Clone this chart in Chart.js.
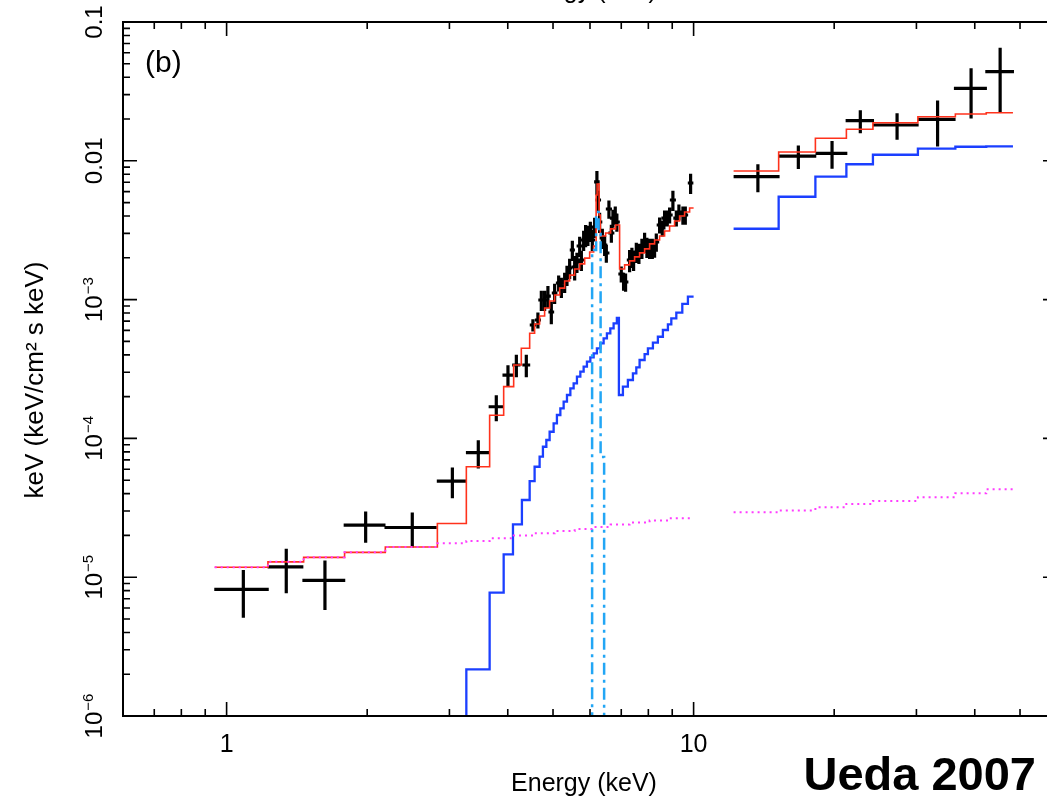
<!DOCTYPE html>
<html>
<head>
<meta charset="utf-8">
<title>Spectrum (b)</title>
<script src="https://cdn.jsdelivr.net/npm/chart.js@4.4.0/dist/chart.umd.min.js"></script>
<style>
  body { margin: 0; background: #fff; }
  #wrap { width: 1047px; height: 797px; overflow: hidden; position: relative; background: #fff; }
</style>
</head>
<body>
<div id="wrap"><canvas id="spec" width="1060" height="797"></canvas></div>
<script>
// ---- XIS spectrum (keV, keV^2 ph/cm^2/s/keV), errors are half-widths ----
const xisEnergy = [1.086, 1.342, 1.624, 1.985, 2.498, 3.044, 3.459, 3.780, 4.004, 4.173, 4.383,
  4.528, 4.641, 4.720, 4.797, 4.876, 4.958, 5.040, 5.141, 5.210, 5.295,
  5.356, 5.427, 5.500, 5.563, 5.626, 5.702, 5.750, 5.815, 5.872, 5.939,
  6.010, 6.069, 6.139, 6.208, 6.251, 6.291, 6.376, 6.449, 6.503, 6.587,
  6.666, 6.718, 6.796, 6.850, 7.000, 7.080, 7.150, 7.294, 7.377, 7.439,
  7.539, 7.636, 7.750, 7.854, 7.943, 8.050, 8.158, 8.250, 8.320, 8.456,
  8.570, 8.667, 8.783, 8.884, 9.030, 9.183, 9.301, 9.487, 9.599, 9.853];
const xisEnergyErr = [0.145, 0.118, 0.171, 0.204, 0.320, 0.225, 0.205, 0.140, 0.107, 0.085, 0.085,
  0.07, 0.07, 0.07, 0.07, 0.07, 0.07, 0.07, 0.07, 0.07, 0.07,
  0.07, 0.07, 0.07, 0.085, 0.085, 0.085, 0.085, 0.085, 0.085, 0.085,
  0.085, 0.085, 0.085, 0.085, 0.085, 0.085, 0.085, 0.085, 0.1, 0.1,
  0.1, 0.1, 0.1, 0.1, 0.1, 0.1, 0.1, 0.1, 0.1, 0.1,
  0.12, 0.12, 0.12, 0.12, 0.12, 0.12, 0.12, 0.12, 0.12, 0.12,
  0.135, 0.135, 0.135, 0.135, 0.135, 0.135, 0.135, 0.135, 0.135, 0.135];
const xisFlux = [8.18e-6, 1.185e-5, 9.50e-6, 2.37e-5, 2.28e-5, 4.93e-5, 7.89e-5, 1.69e-4, 2.86e-4, 3.38e-4, 3.38e-4,
  6.56e-4, 7.13e-4, 9.93e-4, 9.93e-4, 1.061e-3, 8.14e-4, 1.116e-3, 1.317e-3, 1.232e-3, 1.339e-3,
  1.503e-3, 1.689e-3, 2.277e-3, 1.717e-3, 1.866e-3, 2.433e-3, 1.929e-3, 2.687e-3, 2.920e-3, 2.920e-3,
  3.119e-3, 2.687e-3, 3.333e-3, 7.04e-3, 5.22e-3, 3.622e-3, 2.778e-3, 2.473e-3, 2.166e-3, 4.496e-3,
  3.018e-3, 3.870e-3, 4.070e-3, 3.622e-3, 1.529e-3, 1.361e-3, 1.339e-3, 1.929e-3, 2.027e-3, 1.929e-3,
  2.202e-3, 2.166e-3, 2.352e-3, 2.600e-3, 2.393e-3, 2.352e-3, 2.352e-3, 2.352e-3, 2.600e-3, 3.447e-3,
  3.280e-3, 3.870e-3, 3.870e-3, 4.070e-3, 5.22e-3, 3.870e-3, 4.277e-3, 4.070e-3, 4.070e-3, 6.92e-3];
const xisFluxErr = [3.07e-6, 4.2e-6, 3.7e-6, 6.0e-6, 6.4e-6, 1.23e-5, 1.82e-5, 3.6e-5, 5.1e-5, 6.2e-5, 6.2e-5,
  6.6e-5, 9.5e-5, 1.65e-4, 1.65e-4, 1.94e-4, 1.49e-4, 1.85e-4, 1.75e-4, 2.04e-4, 2.22e-4,
  2.49e-4, 2.8e-4, 3.78e-4, 3.42e-4, 3.10e-4, 4.04e-4, 3.20e-4, 4.46e-4, 5.33e-4, 4.85e-4,
  5.18e-4, 4.46e-4, 5.53e-4, 1.40e-3, 8.67e-4, 6.01e-4, 4.61e-4, 4.10e-4, 3.23e-4, 6.70e-4,
  4.50e-4, 5.77e-4, 6.06e-4, 5.40e-4, 2.03e-4, 2.03e-4, 2.0e-4, 3.52e-4, 3.36e-4, 3.20e-4,
  3.65e-4, 3.59e-4, 3.90e-4, 4.31e-4, 3.97e-4, 3.90e-4, 3.90e-4, 3.51e-4, 3.88e-4, 4.57e-4,
  4.35e-4, 5.14e-4, 5.14e-4, 5.40e-4, 8.67e-4, 5.14e-4, 5.68e-4, 6.06e-4, 6.06e-4, 1.15e-3];

// ---- HXD/PIN spectrum ----
const pinEnergy = [13.73, 16.76, 19.79, 22.75, 27.27, 33.30, 39.28, 45.33];
const pinEnergyErr = [1.55, 1.55, 1.55, 1.59, 3.06, 3.09, 3.19, 3.20];
const pinFlux = [7.68e-3, 1.082e-2, 1.132e-2, 1.945e-2, 1.811e-2, 1.991e-2, 3.33e-2, 4.385e-2];
const pinFluxErr = [1.75e-3, 2.08e-3, 2.57e-3, 3.65e-3, 3.93e-3, 7.24e-3, 1.31e-2, 2.15e-2];

// ---- model components, histograms: bin edges + one value per bin ----
const xisTotalEdges = [0.943, 1.226, 1.462, 1.789, 2.187, 2.827, 3.261, 3.658, 3.920, 4.118,
  4.276, 4.456, 4.566, 4.680, 4.797, 4.917, 5.040, 5.166, 5.295, 5.427,
  5.563, 5.702, 5.844, 5.990, 6.109, 6.184, 6.214, 6.276, 6.313, 6.480,
  6.642, 6.806, 6.943, 7.116, 7.294, 7.476, 7.662, 7.854, 8.050, 8.250,
  8.456, 8.667, 8.884, 9.105, 9.333, 9.565, 9.805, 10.0];
const xisTotal = [1.18e-5, 1.29e-5, 1.39e-5, 1.51e-5, 1.65e-5, 2.44e-5, 6.25e-5, 1.47e-4, 2.36e-4, 3.38e-4,
  4.46e-4, 5.72e-4, 6.67e-4, 7.62e-4, 8.70e-4, 9.77e-4, 1.08e-3, 1.21e-3, 1.36e-3, 1.50e-3,
  1.66e-3, 1.81e-3, 1.99e-3, 2.20e-3, 2.43e-3, 5.67e-3, 6.81e-3, 4.07e-3, 2.87e-3, 3.02e-3,
  3.23e-3, 3.45e-3, 1.66e-3, 1.78e-3, 1.90e-3, 2.03e-3, 2.17e-3, 2.32e-3, 2.52e-3, 2.69e-3,
  2.87e-3, 3.12e-3, 3.39e-3, 3.68e-3, 4.00e-3, 4.28e-3, 4.57e-3];

const xisAbsEdges = [2.827, 3.261, 3.658, 3.920, 4.104, 4.289, 4.456, 4.566, 4.680, 4.757,
  4.838, 4.917, 5.015, 5.097, 5.184, 5.269, 5.356, 5.446, 5.535, 5.626,
  5.721, 5.815, 5.910, 6.010, 6.109, 6.208, 6.313, 6.417, 6.522, 6.632,
  6.741, 6.850, 6.919, 7.057, 7.232, 7.414, 7.539, 7.662, 7.854, 7.983,
  8.182, 8.385, 8.595, 8.810, 8.959, 9.183, 9.458, 9.723, 10.0];
const xisAbsorbed = [1e-8, 2.17e-6, 7.73e-6, 1.46e-5, 2.40e-5, 3.60e-5, 4.93e-5, 6.25e-5, 7.38e-5, 8.71e-5,
  9.74e-5, 1.117e-4, 1.284e-4, 1.474e-4, 1.648e-4, 1.838e-4, 2.054e-4, 2.296e-4, 2.494e-4, 2.782e-4,
  3.023e-4, 3.284e-4, 3.568e-4, 3.838e-4, 4.101e-4, 4.457e-4, 4.842e-4, 5.261e-4, 5.716e-4, 6.21e-4,
  6.75e-4, 7.37e-4, 2.054e-4, 2.358e-4, 2.634e-4, 2.944e-4, 3.252e-4, 3.670e-4, 4.054e-4, 4.457e-4,
  4.891e-4, 5.40e-4, 6.04e-4, 6.64e-4, 7.33e-4, 8.05e-4, 9.30e-4, 1.049e-3];

const xisScatEdges = [0.943, 1.226, 1.462, 1.789, 2.187, 2.827, 3.261, 3.658, 4.118, 4.566,
  5.040, 5.563, 6.109, 6.642, 7.294, 8.050, 8.884, 10.0];
const xisScattered = [1.18e-5, 1.29e-5, 1.39e-5, 1.51e-5, 1.65e-5, 1.754e-5, 1.822e-5, 1.906e-5, 1.996e-5,
  2.070e-5, 2.151e-5, 2.224e-5, 2.298e-5, 2.397e-5, 2.478e-5, 2.561e-5, 2.656e-5];

const lineEdges = [5.9, 6.063, 6.184, 6.260, 6.322, 6.433, 6.6];
const ironLine = [1e-8, 2.28e-3, 4.28e-3, 2.97e-3, 7.35e-5, 1e-8];

const pinEdges = [12.18, 15.21, 18.23, 21.24, 24.21, 30.22, 36.35, 42.33, 48.29];
const pinTotal = [8.44e-3, 1.157e-2, 1.452e-2, 1.688e-2, 1.882e-2, 2.078e-2, 2.173e-2, 2.221e-2];
const pinAbsorbed = [3.24e-3, 5.51e-3, 7.68e-3, 9.44e-3, 1.106e-2, 1.222e-2, 1.263e-2, 1.27e-2];
const pinScattered = [2.935e-5, 3.024e-5, 3.189e-5, 3.369e-5, 3.541e-5, 3.764e-5, 4.021e-5, 4.297e-5];

// ---- axis ticks ----
const xMajor = [1, 10];
const xMajorText = ['1', '10'];
const xMinor = [0.7, 0.8, 0.9, 2, 3, 4, 5, 6, 7, 8, 9, 20, 30, 40, 50];
const yMajor = [0.1, 0.01, 1e-3, 1e-4, 1e-5, 1e-6];
const yMajorText = ['0.1', '0.01', '10', '10', '10', '10'];
const yMajorExp = ['', '', '\u22123', '\u22124', '\u22125', '\u22126'];
const yMinorMult = [2, 3, 4, 5, 6, 7, 8, 9];

const FONT = '"Liberation Sans", Arial, Helvetica, sans-serif';

function histogram(edges, values) {
  return edges.map((e, i) => ({ x: e, y: values[Math.min(i, values.length - 1)] }));
}

function crosses(E, dE, F, dF) {
  const pts = [];
  E.forEach((e, i) => {
    pts.push({ x: e - dE[i], y: F[i] }, { x: e + dE[i], y: F[i] }, { x: e, y: null });
    pts.push({ x: e, y: F[i] - dF[i] }, { x: e, y: F[i] + dF[i] }, { x: e, y: null });
  });
  return pts;
}

// XIS and PIN pieces are joined with a gap between 10 and 12 keV
function joined(a, b) {
  return a.concat([{ x: 11, y: null }], b);
}

const frame = {
  id: 'frame',
  afterDatasetsDraw(chart) {
    const { ctx, chartArea: a, scales: { x, y } } = chart;
    ctx.save();
    ctx.strokeStyle = '#000';
    ctx.fillStyle = '#000';

    // ticks point inward on all four sides
    ctx.lineWidth = 1.6;
    ctx.beginPath();
    const xTick = (v, len) => {
      const px = x.getPixelForValue(v);
      ctx.moveTo(px, a.bottom); ctx.lineTo(px, a.bottom - len);
      ctx.moveTo(px, a.top); ctx.lineTo(px, a.top + len);
    };
    const yTick = (v, len) => {
      const py = y.getPixelForValue(v);
      ctx.moveTo(a.left, py); ctx.lineTo(a.left + len, py);
      ctx.moveTo(a.right, py); ctx.lineTo(a.right - len, py);
    };
    xMajor.forEach(v => xTick(v, 14));
    xMinor.forEach(v => xTick(v, 7));
    yMajor.forEach(v => yTick(v, 14));
    yMajor.slice(1).forEach(d => yMinorMult.forEach(m => yTick(d * m, 7)));
    ctx.stroke();

    ctx.lineWidth = 2;
    ctx.strokeRect(a.left, a.top, a.right - a.left, a.bottom - a.top);

    // x tick labels
    ctx.font = '25px ' + FONT;
    ctx.textAlign = 'center';
    ctx.textBaseline = 'alphabetic';
    xMajor.forEach((v, i) => ctx.fillText(xMajorText[i], x.getPixelForValue(v), 752));

    // y tick labels, rotated, with raised exponents
    yMajor.forEach((v, i) => {
      const py = y.getPixelForValue(v);
      ctx.save();
      ctx.translate(102, py);
      ctx.rotate(-Math.PI / 2);
      ctx.textAlign = 'left';
      ctx.font = '24px ' + FONT;
      const w1 = ctx.measureText(yMajorText[i]).width;
      ctx.font = '15px ' + FONT;
      const w2 = yMajorExp[i] ? ctx.measureText(yMajorExp[i]).width + 1 : 0;
      const x0 = -(w1 + w2) / 2;
      ctx.font = '24px ' + FONT;
      ctx.fillText(yMajorText[i], x0, 0);
      if (yMajorExp[i]) {
        ctx.font = '15px ' + FONT;
        ctx.fillText(yMajorExp[i], x0 + w1 + 1, -9);
      }
      ctx.restore();
    });

    // axis titles
    ctx.textAlign = 'center';
    ctx.font = '25px ' + FONT;
    ctx.fillText('Energy (keV)', 584, 791);
    ctx.fillText('Energy (keV)', 584, -2);
    ctx.save();
    ctx.translate(43, 380);
    ctx.rotate(-Math.PI / 2);
    ctx.font = '26px ' + FONT;
    ctx.fillText('keV (keV/cm\u00b2 s keV)', 0, 0);
    ctx.restore();

    ctx.textAlign = 'left';
    ctx.font = '30px ' + FONT;
    ctx.fillText('(b)', 145, 72);

    ctx.textAlign = 'right';
    ctx.font = 'bold 47px ' + FONT;
    ctx.fillText('Ueda 2007', 1036, 790);
    ctx.restore();
  }
};

new Chart(document.getElementById('spec'), {
  type: 'line',
  data: {
    datasets: [
      {
        label: 'scattered',
        data: joined(histogram(xisScatEdges, xisScattered), histogram(pinEdges, pinScattered)),
        borderColor: '#ff3cff',
        borderWidth: 2,
        borderDash: [2, 4],
        stepped: true,
        order: 0
      },
      {
        label: 'Fe K line',
        data: histogram(lineEdges, ironLine),
        borderColor: '#22a6f5',
        borderWidth: 2.5,
        borderDash: [12, 5, 3, 5],
        stepped: true,
        order: 1
      },
      {
        label: 'total',
        data: joined(histogram(xisTotalEdges, xisTotal), histogram(pinEdges, pinTotal)),
        borderColor: '#ff321c',
        borderWidth: 1.6,
        stepped: true,
        order: 2
      },
      {
        label: 'absorbed',
        data: joined(histogram(xisAbsEdges, xisAbsorbed), histogram(pinEdges, pinAbsorbed)),
        borderColor: '#1b3fff',
        borderWidth: 2.3,
        stepped: true,
        order: 3
      },
      {
        label: 'data',
        data: crosses(xisEnergy, xisEnergyErr, xisFlux, xisFluxErr)
          .concat(crosses(pinEnergy, pinEnergyErr, pinFlux, pinFluxErr)),
        borderColor: '#000',
        borderWidth: 3.2,
        order: 4
      }
    ]
  },
  options: {
    responsive: false,
    devicePixelRatio: 1,
    animation: false,
    events: [],
    layout: { padding: { left: 123, top: 22, right: 3, bottom: 81 } },
    elements: { point: { radius: 0 } },
    plugins: { legend: { display: false }, tooltip: { enabled: false } },
    scales: {
      x: { type: 'logarithmic', min: 0.6, max: 60, display: false },
      y: { type: 'logarithmic', min: 1e-6, max: 0.1, display: false }
    }
  },
  plugins: [frame]
});
</script>
</body>
</html>
